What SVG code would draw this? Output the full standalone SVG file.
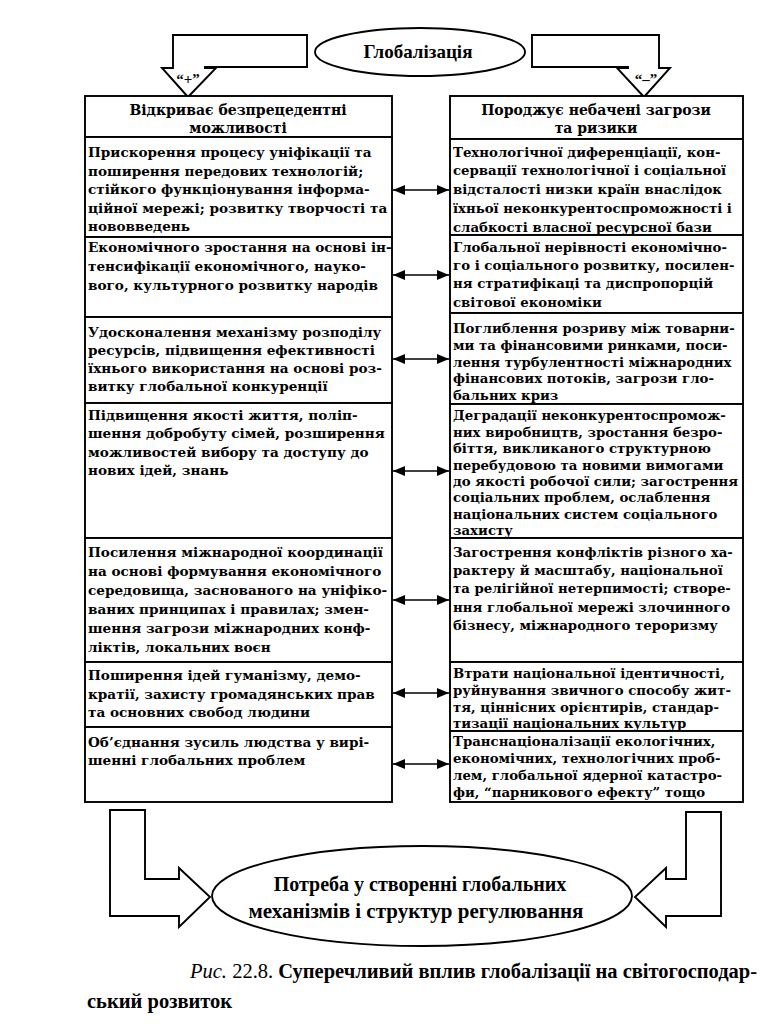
<svg xmlns="http://www.w3.org/2000/svg" width="776" height="1032" viewBox="0 0 776 1032">
<style>
.box{fill:#fff;stroke:#000;stroke-width:1.9}
.shape{fill:#fff;stroke:#000;stroke-width:1.9;stroke-linejoin:miter}
.t{font-family:"DejaVu Serif","Liberation Serif",serif;font-weight:bold;font-size:13.6px;fill:#000}
.r{font-family:"DejaVu Serif","Liberation Serif",serif;font-weight:bold;font-size:13.3px;fill:#000}
.h{font-family:"DejaVu Serif","Liberation Serif",serif;font-weight:bold;font-size:14px;fill:#000;text-anchor:middle}
.e{font-family:"Liberation Serif",serif;font-weight:bold;fill:#000;text-anchor:middle}
.con{stroke:#000;stroke-width:1.7;fill:none;marker-start:url(#ah);marker-end:url(#ah)}
.cap{font-family:"Liberation Serif",serif;font-size:20.5px;fill:#000}
</style>
<defs>
<marker id="ah" markerUnits="userSpaceOnUse" markerWidth="12" markerHeight="10" refX="12" refY="5" orient="auto-start-reverse">
<path d="M0,0 L12,5 L0,10 Z" fill="#000"/>
</marker>
</defs>
<rect width="776" height="1032" fill="#fff"/>

<g id="globalization">
<ellipse class="box" cx="420" cy="52" rx="105" ry="24"/>
<text class="e" x="418" y="58" font-size="19">Глобалізація</text>
</g>

<g id="arrow-plus">
<path class="shape" d="M173,35 L307,35 L307,67 L205,67 L205,68 L216,68 L188,97 L162,68 L173,68 Z"/>
<text class="e" x="188" y="84" font-size="15">“+”</text>
</g>

<g id="arrow-minus">
<path class="shape" d="M532,35 L659,35 L659,68 L670,68 L644,97 L617,68 L628,68 L628,67 L532,67 Z"/>
<text class="e" x="646" y="84" font-size="15">“–”</text>
</g>

<g id="left-title">
<rect class="box" x="85" y="96" width="307" height="41"/>
<text class="h" x="238" y="115">Відкриває безпрецедентні</text>
<text class="h" x="238" y="133">можливості</text>
</g>

<g id="right-title">
<rect class="box" x="450" y="96" width="293" height="43"/>
<text class="h" x="596" y="115">Породжує небачені загрози</text>
<text class="h" x="596" y="133">та ризики</text>
</g>

<g id="left-1">
<rect class="box" x="85" y="137" width="307" height="100"/>
<text class="t" x="88" y="157">Прискорення процесу уніфікації та</text>
<text class="t" x="88" y="175.5">поширення передових технологій;</text>
<text class="t" x="88" y="194">стійкого функціонування інформа-</text>
<text class="t" x="88" y="212.5">ційної мережі; розвитку творчості та</text>
<text class="t" x="88" y="231">нововведень</text>
</g>

<g id="left-2">
<rect class="box" x="85" y="237" width="307" height="80"/>
<text class="t" x="88" y="252">Економічного зростання на основі ін-</text>
<text class="t" x="88" y="271">тенсифікації економічного, науко-</text>
<text class="t" x="88" y="290">вого, культурного розвитку народів</text>
</g>

<g id="left-3">
<rect class="box" x="85" y="317" width="307" height="86"/>
<text class="t" x="88" y="337">Удосконалення механізму розподілу</text>
<text class="t" x="88" y="355">ресурсів, підвищення ефективності</text>
<text class="t" x="88" y="373">їхнього використання на основі роз-</text>
<text class="t" x="88" y="391">витку глобальної  конкуренції</text>
</g>

<g id="left-4">
<rect class="box" x="85" y="403" width="307" height="135"/>
<text class="t" x="88" y="420">Підвищення якості життя, поліп-</text>
<text class="t" x="88" y="438">шення добробуту сімей, розширення</text>
<text class="t" x="88" y="457">можливостей вибору та доступу до</text>
<text class="t" x="88" y="475">нових ідей, знань</text>
</g>

<g id="left-5">
<rect class="box" x="85" y="538" width="307" height="124"/>
<text class="t" x="88" y="557">Посилення міжнародної координації</text>
<text class="t" x="88" y="576">на основі формування економічного</text>
<text class="t" x="88" y="595">середовища, заснованого на уніфіко-</text>
<text class="t" x="88" y="614">ваних принципах і  правилах; змен-</text>
<text class="t" x="88" y="633">шення загрози міжнародних конф-</text>
<text class="t" x="88" y="652">ліктів, локальних воєн</text>
</g>

<g id="left-6">
<rect class="box" x="85" y="662" width="307" height="65"/>
<text class="t" x="88" y="680">Поширення ідей гуманізму, демо-</text>
<text class="t" x="88" y="699">кратії, захисту громадянських прав</text>
<text class="t" x="88" y="717">та основних свобод людини</text>
</g>

<g id="left-7">
<rect class="box" x="85" y="727" width="307" height="75"/>
<text class="t" x="88" y="747">Об’єднання зусиль людства у вирі-</text>
<text class="t" x="88" y="765">шенні глобальних проблем</text>
</g>

<g id="right-1">
<rect class="box" x="450" y="139" width="293" height="96"/>
<text class="r" x="453" y="157">Технологічної диференціації, кон-</text>
<text class="r" x="453" y="175">сервації технологічної і соціальної</text>
<text class="r" x="453" y="194">відсталості низки країн внаслідок</text>
<text class="r" x="453" y="213">їхньої неконкурентоспроможності і</text>
<text class="r" x="453" y="232">слабкості власної ресурсної бази</text>
</g>

<g id="right-2">
<rect class="box" x="450" y="235" width="293" height="78"/>
<text class="r" x="453" y="252">Глобальної нерівності економічно-</text>
<text class="r" x="453" y="270">го і соціального розвитку, посилен-</text>
<text class="r" x="453" y="288">ня стратифікаці та диспропорцій</text>
<text class="r" x="453" y="307">світової економіки</text>
</g>

<g id="right-3">
<rect class="box" x="450" y="313" width="293" height="91"/>
<text class="r" x="453" y="333">Поглиблення розриву між товарни-</text>
<text class="r" x="453" y="350">ми та фінансовими ринками, поси-</text>
<text class="r" x="453" y="367">лення турбулентності міжнародних</text>
<text class="r" x="453" y="383">фінансових потоків, загрози гло-</text>
<text class="r" x="453" y="400">бальних криз</text>
</g>

<g id="right-4">
<rect class="box" x="450" y="404" width="293" height="134"/>
<text class="r" x="453" y="420">Деградації неконкурентоспромож-</text>
<text class="r" x="453" y="437">них виробництв, зростання безро-</text>
<text class="r" x="453" y="453">біття, викликаного структурною</text>
<text class="r" x="453" y="470">перебудовою та новими вимогами</text>
<text class="r" x="453" y="486">до якості робочої сили; загострення</text>
<text class="r" x="453" y="502">соціальних проблем, ослаблення</text>
<text class="r" x="453" y="519">національних систем соціального</text>
<text class="r" x="453" y="535">захисту</text>
</g>

<g id="right-5">
<rect class="box" x="450" y="538" width="293" height="124"/>
<text class="r" x="453" y="557">Загострення конфліктів різного ха-</text>
<text class="r" x="453" y="575">рактеру й масштабу, національної</text>
<text class="r" x="453" y="593">та релігійної нетерпимості; створе-</text>
<text class="r" x="453" y="612">ння глобальної мережі злочинного</text>
<text class="r" x="453" y="630">бізнесу, міжнародного тероризму</text>
</g>

<g id="right-6">
<rect class="box" x="450" y="662" width="293" height="69"/>
<text class="r" x="453" y="678">Втрати національної ідентичності,</text>
<text class="r" x="453" y="695">руйнування звичного способу жит-</text>
<text class="r" x="453" y="712">тя, ціннісних орієнтирів, стандар-</text>
<text class="r" x="453" y="728">тизації національних культур</text>
</g>

<g id="right-7">
<rect class="box" x="450" y="731" width="293" height="71"/>
<text class="r" x="453" y="746">Транснаціоналізації екологічних,</text>
<text class="r" x="453" y="763">економічних, технологічних проб-</text>
<text class="r" x="453" y="780">лем, глобальної ядерної катастро-</text>
<text class="r" x="453" y="797">фи, “парникового ефекту” тощо</text>
</g>

<g id="connectors">
<line class="con" x1="393" y1="190" x2="449" y2="190"/>
<line class="con" x1="393" y1="275" x2="449" y2="275"/>
<line class="con" x1="393" y1="359" x2="449" y2="359"/>
<line class="con" x1="393" y1="471" x2="449" y2="471"/>
<line class="con" x1="393" y1="600" x2="449" y2="600"/>
<line class="con" x1="393" y1="693" x2="449" y2="693"/>
<line class="con" x1="393" y1="764" x2="449" y2="764"/>
</g>

<g id="arrow-left-bottom">
<path class="shape" d="M110,810 L145,810 L145,879 L179,879 L179,868 L210,897 L179,927 L179,916 L110,916 Z"/>
</g>

<g id="arrow-right-bottom">
<path class="shape" d="M721,812 L686,812 L686,879 L666,879 L666,868 L635,897 L666,927 L666,916 L721,916 Z"/>
</g>

<g id="need">
<ellipse class="box" cx="422" cy="896" rx="210" ry="50"/>
<text class="e" x="420" y="891" font-size="20">Потреба у створенні глобальних</text>
<text class="e" x="416" y="918" font-size="21">механізмів і структур регулювання</text>
</g>

<g id="caption">
<text class="cap" x="190" y="978"><tspan font-style="italic">Рис.</tspan> 22.8. <tspan font-weight="bold">Суперечливий вплив глобалізації на світогосподар-</tspan></text>
<text class="cap" x="87" y="1008" font-weight="bold">ський розвиток</text>
</g>
</svg>
